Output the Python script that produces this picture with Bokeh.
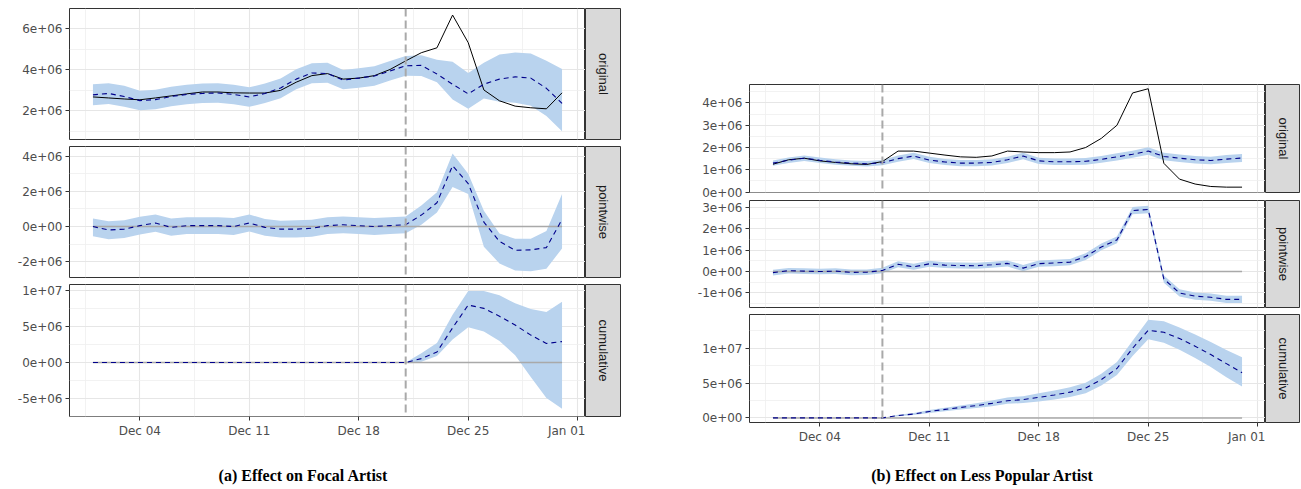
import numpy as np
import pandas as pd
from math import pi
from bokeh.plotting import figure
from bokeh.layouts import column, row
from bokeh.models import Range1d, FixedTicker, Spacer, Div, Span
from bokeh.core.properties import value
from bokeh.embed import file_html
from bokeh.resources import INLINE

# ---------------- data ----------------
dates = pd.date_range("2017-12-01", periods=31, freq="D")

x_ticks = ["2017-12-04", "2017-12-11", "2017-12-18", "2017-12-25", "2018-01-01"]
x_tick_labels = ["Dec 04", "Dec 11", "Dec 18", "Dec 25", "Jan 01"]
x_minor = ["2017-11-30 12:00", "2017-12-07 12:00", "2017-12-14 12:00",
           "2017-12-21 12:00", "2017-12-28 12:00"]
facet_labels = ["original", "pointwise", "cumulative"]
captions = ["(a) Effect on Focal Artist", "(b) Effect on Less Popular Artist"]

# Panel (a) - focal artist (values in millions)
a_actual = [2.68, 2.63, 2.58, 2.54, 2.63, 2.73, 2.83, 2.92, 2.92, 2.88, 2.87, 2.87, 3.00, 3.40, 3.72, 3.82,
            3.55, 3.60, 3.72, 4.02, 4.44, 4.84, 5.08, 6.68, 5.33, 3.02, 2.49, 2.23, 2.15, 2.10, 2.88]
a_pred = [2.78, 2.85, 2.70, 2.50, 2.55, 2.70, 2.80, 2.85, 2.87, 2.80, 2.68, 2.85, 3.12, 3.55, 3.85, 3.82,
          3.50, 3.60, 3.70, 3.95, 4.20, 4.22, 3.80, 3.30, 2.83, 3.30, 3.55, 3.66, 3.60, 3.10, 2.36]
a_pred_lo = [2.27, 2.33, 2.20, 2.03, 2.08, 2.22, 2.32, 2.38, 2.40, 2.32, 2.20, 2.38, 2.62, 3.05, 3.35, 3.37,
             3.05, 3.13, 3.23, 3.48, 3.72, 3.70, 3.40, 2.55, 2.10, 2.60, 2.45, 2.40, 2.25, 1.75, 1.00]
a_pred_hi = [3.30, 3.35, 3.22, 2.98, 3.03, 3.18, 3.28, 3.33, 3.35, 3.28, 3.15, 3.33, 3.58, 4.03, 4.33, 4.35,
             4.00, 4.08, 4.18, 4.43, 4.68, 4.72, 4.50, 4.40, 3.85, 4.35, 4.75, 4.85, 4.80, 4.45, 4.05]
a_point = [0.00, -0.20, -0.15, 0.05, 0.20, -0.05, 0.05, 0.05, 0.05, 0.00, 0.20, -0.05, -0.15, -0.15, -0.10, 0.05,
           0.10, 0.05, 0.00, 0.05, 0.10, 0.65, 1.35, 3.46, 2.44, 0.25, -0.85, -1.35, -1.33, -1.20, 0.40]
a_point_lo = [-0.55, -0.72, -0.65, -0.45, -0.30, -0.52, -0.43, -0.43, -0.43, -0.48, -0.28, -0.53, -0.63, -0.62,
              -0.58, -0.43, -0.38, -0.43, -0.48, -0.42, -0.38, 0.10, 0.80, 2.25, 1.85, -1.15, -2.10, -2.50,
              -2.55, -2.40, -1.25]
a_point_hi = [0.45, 0.30, 0.35, 0.55, 0.68, 0.45, 0.52, 0.52, 0.52, 0.48, 0.68, 0.43, 0.33, 0.35, 0.38, 0.52,
              0.57, 0.52, 0.48, 0.52, 0.57, 1.20, 1.95, 4.15, 3.00, 0.90, -0.40, -0.70, -0.70, -0.25, 1.85]
a_cum = [0, 0, 0, 0, 0, 0, 0, 0, 0, 0, 0, 0, 0, 0, 0, 0, 0, 0, 0, 0, 0,
         0.55, 1.47, 4.80, 7.96, 7.50, 6.40, 5.20, 3.80, 2.64, 2.90]
a_cum_lo = [0, 0, 0, 0, 0, 0, 0, 0, 0, 0, 0, 0, 0, 0, 0, 0, 0, 0, 0, 0, 0,
            0.10, 0.90, 3.20, 4.90, 4.30, 3.00, 1.00, -2.00, -4.90, -6.40]
a_cum_hi = [0, 0, 0, 0, 0, 0, 0, 0, 0, 0, 0, 0, 0, 0, 0, 0, 0, 0, 0, 0, 0,
            1.30, 2.70, 6.60, 9.90, 9.90, 9.30, 8.20, 7.40, 7.00, 8.40]
a_intervention = "2017-12-21"

# Panel (b) - less popular artist (values in millions)
b_actual = [1.25, 1.45, 1.52, 1.40, 1.33, 1.27, 1.24, 1.37, 1.84, 1.84, 1.75, 1.66, 1.58, 1.56, 1.62, 1.84,
            1.80, 1.77, 1.77, 1.80, 2.00, 2.41, 3.00, 4.45, 4.64, 1.29, 0.58, 0.36, 0.25, 0.22, 0.22]
b_pred = [1.30, 1.43, 1.52, 1.43, 1.35, 1.30, 1.27, 1.32, 1.50, 1.62, 1.44, 1.35, 1.30, 1.30, 1.33, 1.45,
          1.62, 1.40, 1.36, 1.36, 1.38, 1.47, 1.58, 1.70, 1.84, 1.60, 1.52, 1.45, 1.42, 1.48, 1.53]
b_pred_lo = [1.18, 1.31, 1.40, 1.31, 1.23, 1.18, 1.15, 1.20, 1.36, 1.48, 1.30, 1.21, 1.16, 1.16, 1.19, 1.31,
             1.47, 1.26, 1.21, 1.21, 1.23, 1.32, 1.42, 1.54, 1.67, 1.43, 1.35, 1.28, 1.25, 1.30, 1.35]
b_pred_hi = [1.42, 1.55, 1.64, 1.55, 1.47, 1.42, 1.39, 1.44, 1.64, 1.76, 1.58, 1.49, 1.44, 1.44, 1.47, 1.59,
             1.77, 1.54, 1.51, 1.51, 1.53, 1.62, 1.74, 1.86, 2.01, 1.77, 1.69, 1.62, 1.59, 1.66, 1.71]
b_point = [-0.05, 0.04, 0.02, 0.00, 0.02, -0.04, -0.03, 0.05, 0.34, 0.22, 0.36, 0.30, 0.28, 0.27, 0.32, 0.38,
           0.16, 0.37, 0.40, 0.44, 0.70, 1.15, 1.48, 2.85, 2.90, -0.35, -1.00, -1.15, -1.20, -1.30, -1.30]
b_point_lo = [-0.18, -0.09, -0.11, -0.13, -0.11, -0.17, -0.16, -0.08, 0.20, 0.08, 0.22, 0.16, 0.14, 0.13, 0.18,
              0.24, 0.01, 0.22, 0.25, 0.29, 0.54, 0.99, 1.32, 2.68, 2.73, -0.52, -1.17, -1.32, -1.37, -1.47, -1.47]
b_point_hi = [0.08, 0.17, 0.15, 0.13, 0.15, 0.09, 0.10, 0.18, 0.48, 0.36, 0.50, 0.44, 0.42, 0.41, 0.46, 0.52,
              0.31, 0.52, 0.55, 0.59, 0.86, 1.31, 1.64, 3.02, 3.07, -0.18, -0.83, -0.98, -1.03, -1.13, -1.13]
b_cum = [0, 0, 0, 0, 0, 0, 0, 0,
         0.34, 0.56, 0.92, 1.22, 1.50, 1.77, 2.09, 2.47, 2.63, 2.95, 3.30, 3.70, 4.30, 5.50, 7.10, 10.0,
         12.6, 12.3, 11.4, 10.3, 9.1, 7.8, 6.5]
b_cum_lo = [0, 0, 0, 0, 0, 0, 0, 0,
            0.24, 0.41, 0.72, 0.97, 1.20, 1.42, 1.69, 2.02, 2.13, 2.35, 2.65, 3.00, 3.55, 4.65, 6.15, 8.90,
            11.3, 10.8, 9.8, 8.6, 7.3, 5.85, 4.5]
b_cum_hi = [0, 0, 0, 0, 0, 0, 0, 0,
            0.44, 0.71, 1.12, 1.47, 1.80, 2.12, 2.49, 2.92, 3.13, 3.55, 3.95, 4.40, 5.05, 6.35, 8.05, 11.1,
            14.1, 13.9, 13.0, 12.0, 10.9, 9.75, 8.7]
b_intervention = "2017-12-08"

# y-axis ticks / labels
a1_ticks = [2e6, 4e6, 6e6]; a1_labels = ["2e+06", "4e+06", "6e+06"]; a1_minor = [1e6, 3e6, 5e6, 7e6]
a2_ticks = [-2e6, 0, 2e6, 4e6]; a2_labels = ["-2e+06", "0e+00", "2e+06", "4e+06"]; a2_minor = [-3e6, -1e6, 1e6, 3e6]
a3_ticks = [-5e6, 0, 5e6, 1e7]; a3_labels = ["-5e+06", "0e+00", "5e+06", "1e+07"]; a3_minor = [-7.5e6, -2.5e6, 2.5e6, 7.5e6]
b1_ticks = [0, 1e6, 2e6, 3e6, 4e6]; b1_labels = ["0e+00", "1e+06", "2e+06", "3e+06", "4e+06"]
b1_minor = [0.5e6, 1.5e6, 2.5e6, 3.5e6, 4.5e6]
b2_ticks = [-1e6, 0, 1e6, 2e6, 3e6]; b2_labels = ["-1e+06", "0e+00", "1e+06", "2e+06", "3e+06"]
b2_minor = [-1.5e6, -0.5e6, 0.5e6, 1.5e6, 2.5e6]
b3_ticks = [0, 5e6, 1e7]; b3_labels = ["0e+00", "5e+06", "1e+07"]; b3_minor = [2.5e6, 7.5e6, 1.25e7]

# ---------------- helpers ----------------
M = 1e6
FILL = "#B9D3EE"
DASH_BLUE = "#00008B"
BORDER = "#333333"


def to_ms(s):
    return pd.Timestamp(s).value / 1e6


X_START = to_ms("2017-11-29 12:00")
X_END = to_ms("2018-01-01 12:00")
xt_major = [to_ms(d) for d in x_ticks]
xt_minor = [to_ms(d) for d in x_minor]


def panel(frame_w, frame_h, yr, yt, ylab, ym, mb_top, mb_bottom, show_x):
    p = figure(x_axis_type="datetime", frame_width=frame_w, frame_height=frame_h,
               x_range=Range1d(X_START, X_END), y_range=Range1d(*yr),
               toolbar_location=None, output_backend="svg",
               min_border_left=61, min_border_right=0, min_border_top=mb_top, min_border_bottom=mb_bottom,
               background_fill_color="white", border_fill_color="white",
               outline_line_color=BORDER, outline_line_width=1)
    xtick = FixedTicker(ticks=xt_major, minor_ticks=xt_minor)
    ytick = FixedTicker(ticks=yt, minor_ticks=ym)
    p.xaxis.ticker = xtick
    p.xgrid.ticker = xtick
    p.yaxis.ticker = ytick
    p.ygrid.ticker = ytick
    p.xaxis.major_label_overrides = dict(zip(xt_major, x_tick_labels))
    p.yaxis.major_label_overrides = dict(zip([float(t) for t in yt], ylab))
    for ax in (p.xaxis[0], p.yaxis[0]):
        ax.axis_line_color = None
        ax.major_tick_line_color = BORDER
        ax.major_tick_out = 4
        ax.major_tick_in = 0
        ax.minor_tick_line_color = None
        ax.major_label_text_font = "DejaVu Sans"
        ax.major_label_text_font_size = "12px"
        ax.major_label_text_color = "#4d4d4d"
        ax.major_label_standoff = 3
    p.xaxis.visible = show_x
    for g in (p.xgrid[0], p.ygrid[0]):
        g.grid_line_color = "#e6e6e6"
        g.grid_line_width = 1.1
        g.minor_grid_line_color = "#efefef"
        g.minor_grid_line_width = 0.8
    return p


def strip(w, frame_h, mb_top, mb_bottom, label):
    s = figure(frame_width=w, frame_height=frame_h, x_range=Range1d(0, 1), y_range=Range1d(0, 1),
               toolbar_location=None, output_backend="svg",
               min_border_left=0, min_border_right=0, min_border_top=mb_top, min_border_bottom=mb_bottom,
               background_fill_color="#d9d9d9", border_fill_color="white",
               outline_line_color=BORDER, outline_line_width=1)
    s.axis.visible = False
    s.grid.visible = False
    s.text(x=[0.5], y=[0.5], text=[label], angle=-pi / 2, text_align="center", text_baseline="middle",
           text_font=value("Liberation Sans"), text_font_size="13px", text_color="#1a1a1a")
    return s


def add_series(p, lo, hi, mean, intervention, actual=None, zero=False):
    lo = np.array(lo) * M
    hi = np.array(hi) * M
    mean = np.array(mean) * M
    p.varea(x=dates, y1=lo, y2=hi, fill_color=FILL, fill_alpha=1.0)
    if zero:
        p.segment(x0=[dates[0]], x1=[dates[-1]], y0=[0], y1=[0], line_color="#A9A9A9", line_width=1.5)
    if actual is not None:
        p.line(dates, np.array(actual) * M, line_color="black", line_width=1)
    p.line(dates, mean, line_color=DASH_BLUE, line_width=1.1, line_dash="5 4")
    p.add_layout(Span(location=to_ms(intervention), dimension="height", line_color="#A9A9A9",
                      line_width=2, line_dash="8 4"))


def caption(text, width, height, pad):
    return Div(text=('<div style="width:%dpx;text-align:center;font-family:\'Liberation Serif\',serif;'
                     'font-weight:bold;font-size:16px;line-height:18px;padding-top:%dpx;color:#000;">%s</div>'
                     % (width, pad, text)),
               width=width, height=height, margin=0)


FW = 516

# ---------------- panel (a) ----------------
a1 = panel(FW, 131, (0.6e6, 7.0e6), a1_ticks, a1_labels, a1_minor, 0, 6, False)
add_series(a1, a_pred_lo, a_pred_hi, a_pred, a_intervention, actual=a_actual)
a2 = panel(FW, 131, (-2.9e6, 4.55e6), a2_ticks, a2_labels, a2_minor, 1, 5, False)
add_series(a2, a_point_lo, a_point_hi, a_point, a_intervention, zero=True)
a3 = panel(FW, 132, (-7.46e6, 10.8e6), a3_ticks, a3_labels, a3_minor, 2, 30, True)
add_series(a3, a_cum_lo, a_cum_hi, a_cum, a_intervention, zero=True)

sa1 = strip(36, 131, 0, 6, facet_labels[0])
sa2 = strip(36, 131, 1, 5, facet_labels[1])
sa3 = strip(36, 132, 2, 30, facet_labels[2])

cap_a = caption(captions[0], 590, 35, 21)
col_a = column(row(a1, sa1), row(a2, sa2), row(a3, sa3), cap_a)

# ---------------- panel (b) ----------------
b1 = panel(FW, 108, (-0.02e6, 4.83e6), b1_ticks, b1_labels, b1_minor, 0, 7, False)
add_series(b1, b_pred_lo, b_pred_hi, b_pred, b_intervention, actual=b_actual)
b2 = panel(FW, 107, (-1.68e6, 3.32e6), b2_ticks, b2_labels, b2_minor, 1, 6, False)
add_series(b2, b_point_lo, b_point_hi, b_point, b_intervention, zero=True)
b3 = panel(FW, 108, (-0.66e6, 14.86e6), b3_ticks, b3_labels, b3_minor, 1, 30, True)
add_series(b3, b_cum_lo, b_cum_hi, b_cum, b_intervention, zero=True)

sb1 = strip(35, 108, 0, 7, facet_labels[0])
sb2 = strip(35, 107, 1, 6, facet_labels[1])
sb3 = strip(35, 108, 1, 30, facet_labels[2])

cap_b = caption(captions[1], 588, 29, 15)
col_b = column(Spacer(width=10, height=76), row(b1, sb1), row(b2, sb2), row(b3, sb3), cap_b)

layout = column(Spacer(width=10, height=8),
                row(Spacer(width=8, height=10), col_a, Spacer(width=67, height=10), col_b))

open("out.html", "w").write(file_html(layout, INLINE, title="Causal impact"))
